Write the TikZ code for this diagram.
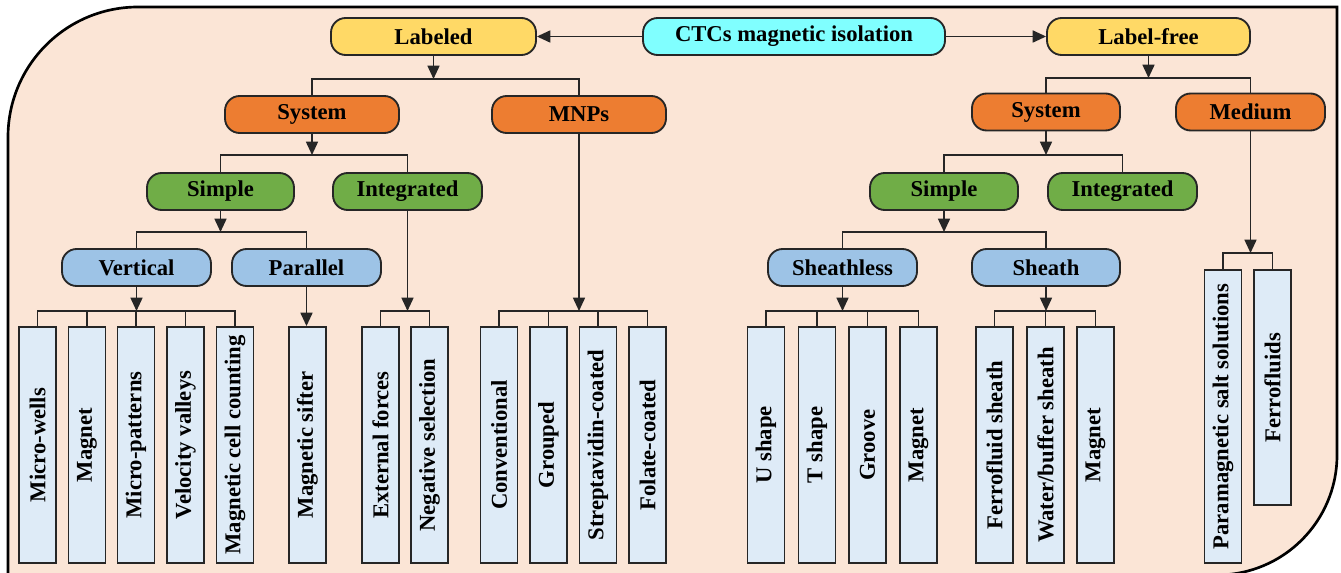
\documentclass[tikz,border=0pt]{standalone}
\usepackage{fontspec}
\setmainfont{Liberation Serif}
\usetikzlibrary{arrows.meta}
\definecolor{bg}{HTML}{FBE5D6}
\definecolor{yel}{HTML}{FFD966}
\definecolor{cya}{HTML}{80FFFF}
\definecolor{ora}{HTML}{ED7D31}
\definecolor{grn}{HTML}{70AD47}
\definecolor{blu}{HTML}{9DC3E6}
\definecolor{lea}{HTML}{DEEBF7}
\definecolor{ln}{HTML}{262626}
\begin{document}
\begin{tikzpicture}[x=0.75pt,y=-0.75pt,
  txt/.style={font=\fontsize{17}{20}\selectfont\bfseries, text=black},
  pill/.style={txt, draw=ln, line width=1.4pt, rounded corners=11pt, minimum height=37*0.75pt, inner sep=0pt, minimum width=#1*0.75pt},
  pill/.default=149,
  leaf/.style={txt, draw=ln, line width=1.4pt, fill=lea, rotate=90, inner sep=0pt, minimum height=37*0.75pt, minimum width=#1*0.75pt},
  leaf/.default=236,
  conn/.style={draw=ln, line width=1.2pt},
  arr/.style={conn, -{Triangle[length=10pt,width=9pt]}}]
\useasboundingbox (0,0) rectangle (1341,573);
% background panel
\draw[line width=2pt, fill=bg] (8,600) -- (8,137) .. controls (8,65.2) and (66.2,7) .. (138,7)
  -- (1337,7) -- (1337,455) .. controls (1337,521.3) and (1283.3,575) .. (1217,575) -- (8,600) -- cycle;
% top row
\node[pill=205, fill=yel] (lab) at (433.5,36.5) {Labeled};
\node[pill=302, fill=cya] (ctc) at (794,36.5) {CTCs magnetic isolation};
\node[pill=203, fill=yel] (lf) at (1148.5,36.5) {Label-free};
\draw[arr] (ctc.west) -- (lab.east);
\draw[arr] (ctc.east) -- (lf.west);
% left tree
\node[pill=174, fill=ora] (sysL) at (312,114.5) {System};
\node[pill=174, fill=ora] (mnps) at (579,114.5) {MNPs};
\coordinate (b1) at (433.5,79);
\draw[arr] (lab.south) -- (b1);
\draw[conn] (sysL.north) |- (b1) -| (mnps.north);

\node[pill=147, fill=grn] (simL) at (220.5,191.5) {Simple};
\node[pill=149, fill=grn] (intL) at (407.5,191.5) {Integrated};
\coordinate (b2) at (312,155);
\draw[arr] (sysL.south) -- (b2);
\draw[conn] (simL.north) |- (b2) -| (intL.north);

\node[pill=149, fill=blu] (ver) at (136.5,267.5) {Vertical};
\node[pill=149, fill=blu] (par) at (306.5,267.5) {Parallel};
\coordinate (b3) at (220.5,232);
\draw[arr] (simL.south) -- (b3);
\draw[conn] (ver.north) |- (b3) -| (par.north);

\node[leaf] (l1) at (37.5,445) {Micro-wells};
\node[leaf] (l2) at (87,445) {Magnet};
\node[leaf] (l3) at (136,445) {Micro-patterns};
\node[leaf] (l4) at (185.5,445) {Velocity valleys};
\node[leaf] (l5) at (235,445) {Magnetic cell counting};
\coordinate (b4) at (136.5,311);
\draw[arr] (ver.south) -- (b4);
\draw[conn] (l1.east) |- (b4) -| (l5.east);
\draw[conn] (l2.east) -- (l2.east |- b4);
\draw[conn] (l3.east) -- (l3.east |- b4);
\draw[conn] (l4.east) -- (l4.east |- b4);

\node[leaf] (sift) at (307.5,445) {Magnetic sifter};
\draw[arr] (par.south) -- (par.south |- sift.east);

\node[leaf] (ext) at (380.5,445) {External forces};
\node[leaf] (neg) at (429.5,445) {Negative selection};
\coordinate (b5) at (407.5,311);
\draw[arr] (intL.south) -- (b5);
\draw[conn] (ext.east) |- (b5) -| (neg.east);

\node[leaf] (con) at (499,445) {Conventional};
\node[leaf] (grp) at (548.5,445) {Grouped};
\node[leaf] (str) at (598,445) {Streptavidin-coated};
\node[leaf] (fol) at (647.5,445) {Folate-coated};
\coordinate (b6) at (579,311);
\draw[arr] (mnps.south) -- (b6);
\draw[conn] (con.east) |- (b6) -| (fol.east);
\draw[conn] (grp.east) -- (grp.east |- b6);
\draw[conn] (str.east) -- (str.east |- b6);

% right tree
\node[pill=148, fill=ora] (sysR) at (1046,112) {System};
\node[pill=149, fill=ora] (med) at (1250.5,112) {Medium};
\coordinate (b7) at (1148.5,78);
\draw[arr] (lf.south) -- (b7);
\draw[conn] (sysR.north) |- (b7) -| (med.north);

\node[pill=148, fill=grn] (simR) at (944,191.5) {Simple};
\node[pill=149, fill=grn] (intR) at (1122.5,191.5) {Integrated};
\coordinate (b8) at (1046,155);
\draw[arr] (sysR.south) -- (b8);
\draw[conn] (simR.north) |- (b8) -| (intR.north);

\node[pill=149, fill=blu] (sl) at (842.5,267.5) {Sheathless};
\node[pill=148, fill=blu] (sh) at (1046,267.5) {Sheath};
\coordinate (b9) at (944,232);
\draw[arr] (simR.south) -- (b9);
\draw[conn] (sl.north) |- (b9) -| (sh.north);

\node[leaf] (ush) at (766,445) {U shape};
\node[leaf] (tsh) at (817,445) {T shape};
\node[leaf] (grv) at (867.5,445) {Groove};
\node[leaf] (mg2) at (918.5,445) {Magnet};
\coordinate (b10) at (842.5,311);
\draw[arr] (sl.south) -- (b10);
\draw[conn] (ush.east) |- (b10) -| (mg2.east);
\draw[conn] (tsh.east) -- (tsh.east |- b10);
\draw[conn] (grv.east) -- (grv.east |- b10);

\node[leaf] (ffs) at (994.5,445) {Ferrofluid sheath};
\node[leaf] (wbs) at (1045.5,445) {Water/buffer sheath};
\node[leaf] (mg3) at (1095.5,445) {Magnet};
\coordinate (b11) at (1046,311);
\draw[arr] (sh.south) -- (b11);
\draw[conn] (ffs.east) |- (b11) -| (mg3.east);
\draw[conn] (wbs.east) -- (wbs.east |- b11);

\node[leaf=293] (pss) at (1223,416.5) {Paramagnetic salt solutions};
\node[leaf=235] (ffl) at (1272.5,387.5) {Ferrofluids};
\coordinate (b12) at (1250.5,253);
\draw[arr] (med.south) -- (b12);
\draw[conn] (pss.east) |- (b12) -| (ffl.east);
\end{tikzpicture}
\end{document}
